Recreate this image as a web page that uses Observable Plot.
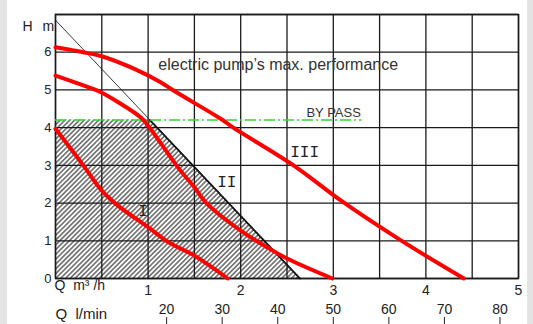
<!DOCTYPE html>
<html><head><meta charset="utf-8">
<script src="https://cdn.jsdelivr.net/npm/d3@7"></script>
<script src="https://cdn.jsdelivr.net/npm/@observablehq/plot@0.6"></script>
<style>
html,body{margin:0;padding:0;}
body{width:533px;height:324px;overflow:hidden;background:linear-gradient(to right,#e3e3e3 0 7px,#fff 7px 527px,#e3e3e3 527px 533px);}
svg{display:block;}
</style></head><body><div id="chart"></div>
<script>
// Pump curves: Q (m3/h) vs H (m)
const curveI_Q   = [0, 0.3, 0.5, 0.67, 1.0, 1.22, 1.49, 1.86];
const curveI_H   = [3.97, 3.0, 2.33, 1.94, 1.36, 0.96, 0.62, 0];
const curveII_Q  = [0, 0.3, 0.49, 0.66, 0.93, 1.03, 1.33, 1.5, 1.63, 2.0, 2.29, 2.5, 2.99];
const curveII_H  = [5.38, 5.12, 4.94, 4.7, 4.25, 3.95, 2.92, 2.42, 2.0, 1.27, 0.82, 0.53, 0];
const curveIII_Q = [0, 0.3, 0.49, 0.84, 1.13, 1.27, 1.8, 1.92, 2.57, 3.08, 3.73, 4.41];
const curveIII_H = [6.13, 6.0, 5.9, 5.57, 5.21, 4.99, 4.21, 4.0, 3.0, 2.07, 1.01, 0];

// max performance envelope (hatched) and limit line
const hatchQ = [0, 1.02, 2.64];
const hatchH = [4.2, 4.2, 0];
const limitQ = [0, 2.64];
const limitH = [6.85, 0];
const bypassH = 4.2, bypassQend = 3.31;

const curveLabels = ["I", "II", "III"];
const curveLabelQ = [0.945, 1.85, 2.69];
const curveLabelH = [1.79, 2.57, 3.37];
const notes = ["electric pump\u2019s max. performance", "BY PASS"];
const notesQ = [1.11, 2.71];
const notesH = [5.52, 4.27];
const notesSize = [16, 13];

const xGridTicks = [0, 0.5, 1, 1.5, 2, 2.5, 3, 3.5, 4, 4.5, 5];
const yGridTicks = [0, 1, 2, 3, 4, 5, 6, 7];
const xTickLabels = [1, 2, 3, 4, 5];
const yTickLabels = [0, 1, 2, 3, 4, 5, 6];
const lpmTicks = [20, 30, 40, 50, 60, 70, 80];

const toRows = (Q, Hh, name) => Q.map((q, i) => ({q, h: Hh[i], name}));
const curves = [
  ...toRows(curveI_Q, curveI_H, "I"),
  ...toRows(curveII_Q, curveII_H, "II"),
  ...toRows(curveIII_Q, curveIII_H, "III")
];
const hatch = toRows(hatchQ, hatchH, "hatch");
const limit = toRows(limitQ, limitH, "limit");
const labels = curveLabels.map((t, i) => ({t, q: curveLabelQ[i], h: curveLabelH[i]}));
const noteRows = notes.map((t, i) => ({t, q: notesQ[i], h: notesH[i], s: notesSize[i]}));

const chart = Plot.plot({
  width: 533, height: 324,
  marginLeft: 55, marginRight: 15, marginTop: 14, marginBottom: 46,
  x: {domain: [0, 5]},
  y: {domain: [0, 7]},
  style: {fontFamily: "'Liberation Sans', Arial, sans-serif", fontSize: "13px", color: "#222", background: "transparent", overflow: "visible"},
  marks: [
    Plot.areaY(hatch, {x: "q", y: "h", fill: "url(#hatch)", curve: "linear"}),
    Plot.gridX(xGridTicks, {stroke: "#1a1a1a", strokeOpacity: 1, strokeWidth: 1.3}),
    Plot.gridY(yGridTicks, {stroke: "#1a1a1a", strokeOpacity: 1, strokeWidth: 1.3}),
    Plot.frame({stroke: "#1a1a1a", strokeWidth: 1.5}),
    Plot.line(hatch.slice(1), {x: "q", y: "h", stroke: "#000", strokeWidth: 1.8, strokeDasharray: "1.5,1"}),
    Plot.line(limit, {x: "q", y: "h", stroke: "#222", strokeWidth: 0.9}),
    Plot.ruleY([bypassH], {x1: 0, x2: bypassQend, stroke: "#2fd82f", strokeWidth: 1.5, strokeDasharray: "11,3,2,3"}),
    Plot.line(curves, {x: "q", y: "h", z: "name", stroke: "#ff0000", strokeWidth: 4, curve: "catmull-rom"}),
    Plot.text(labels, {x: "q", y: "h", text: "t", fontFamily: "'Liberation Mono', 'DejaVu Sans Mono', monospace", fontSize: 16, fill: "#222"}),
    Plot.text(noteRows, {x: "q", y: "h", text: "t", fontSize: "s", textAnchor: "start", lineAnchor: "bottom", fill: "#333"}),
    Plot.axisY(yTickLabels, {anchor: "left", tickSize: 0, tickPadding: 4, label: null, fontSize: 13}),
    Plot.axisX(xTickLabels, {anchor: "bottom", tickSize: 0, tickPadding: 7, label: null, fontSize: 14}),
    Plot.axisX(lpmTicks.map(v => v * 60 / 1000), {anchor: "top", tickSize: 8, tickPadding: 3, dy: 310, label: null, fontSize: 14,
      tickFormat: d => String(Math.round(d * 1000 / 60)), stroke: "#222"}),
    Plot.text(["H"], {text: d => d, frameAnchor: "top-left", textAnchor: "start", dx: -33, dy: 7, fontSize: 14}),
    Plot.text(["m"], {text: d => d, frameAnchor: "top-left", textAnchor: "start", dx: -13, dy: 7, fontSize: 14}),
    Plot.text(["Q\u00a0\u00a0m\u00b3\u00a0/h"], {text: d => d, frameAnchor: "bottom-left", textAnchor: "start", dx: -1, dy: 11, fontSize: 14}),
    Plot.text(["Q\u00a0\u00a0l/min"], {text: d => d, frameAnchor: "bottom-left", textAnchor: "start", dx: 0, dy: 40, fontSize: 15})
  ]
});

const ns = "http://www.w3.org/2000/svg";
const defs = document.createElementNS(ns, "defs");
defs.innerHTML = '<pattern id="hatch" patternUnits="userSpaceOnUse" width="3.4" height="3.4" patternTransform="rotate(45)">' +
  '<rect width="3.4" height="3.4" fill="#ffffff"/><line x1="1.7" y1="0" x2="1.7" y2="3.4" stroke="#2a2a2a" stroke-width="1.1"/></pattern>';
chart.insertBefore(defs, chart.firstChild);
document.getElementById("chart").appendChild(chart);
</script>
</body></html>
